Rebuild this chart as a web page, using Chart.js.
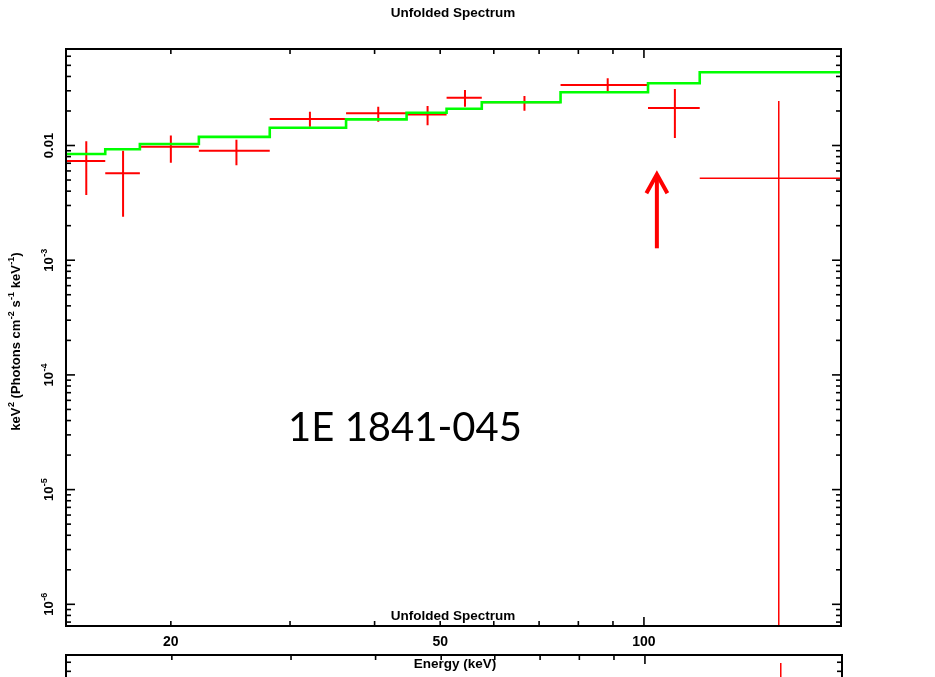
<!DOCTYPE html>
<html>
<head>
<meta charset="utf-8">
<title>Unfolded Spectrum</title>
<script src="https://cdn.jsdelivr.net/npm/chart.js@4.4.0/dist/chart.umd.min.js"></script>
<style>
  html, body { margin: 0; padding: 0; background: #fff; }
  #wrap { position: relative; width: 935px; height: 677px; }
</style>
</head>
<body>
<div id="wrap"><canvas id="spec" width="935" height="677"></canvas></div>
<script>
// ── Data ────────────────────────────────────────────────────────────────────
// energy bins, keV
const binLo     = [14.0, 16.0, 18.0, 22.0, 28.0, 36.3, 44.6, 51.1, 57.6, 75.3, 101.4, 120.9];
const binHi     = [16.0, 18.0, 22.0, 28.0, 36.3, 44.6, 51.1, 57.6, 75.3, 101.4, 120.9, 200.0];
const binCenter = [15.0, 17.0, 20.0, 25.0, 32.1, 40.5, 47.9, 54.4, 66.6, 88.4, 111.1, 158.2];

// unfolded data, keV^2 (Photons cm^-2 s^-1 keV^-1)
const fluxVal = [7.33e-3, 5.72e-3, 9.76e-3, 9.01e-3, 0.0170, 0.0191, 0.0186, 0.0261, 0.0238, 0.0337, 0.0212, 5.18e-3];
const fluxHi  = [0.0109, 9.01e-3, 0.0122, 0.0112, 0.0197, 0.0218, 0.0221, 0.0305, 0.0270, 0.0385, 0.0311, 0.0244];
const fluxLo  = [3.70e-3, 2.39e-3, 7.08e-3, 6.72e-3, 0.0146, 0.0161, 0.0150, 0.0218, 0.0201, 0.0295, 0.0116, 1e-7];

// model (green histogram)
const modelVal = [8.43e-3, 9.27e-3, 0.0103, 0.0119, 0.0143, 0.0169, 0.0193, 0.0209, 0.0238, 0.0291, 0.0349, 0.0435];

// axis ranges and tick labels  ([base, superscript])
const xRange = [14.0, 195.5];
const yRange = [6.47e-7, 0.0694];
const xTickLabelValues = [20, 50, 100];
const xTickLabels      = ['20', '50', '100'];
const yTickLabelValues = [1e-2, 1e-3, 1e-4, 1e-5, 1e-6];
const yTickLabels      = [['0.01', ''], ['10', '-3'], ['10', '-4'], ['10', '-5'], ['10', '-6']];
const yTitle = [['keV', '2'], [' (Photons cm', '-2'], [' s', '-1'], [' keV', '-1'], [')', '']];

// arrow annotation (energy, tip flux, tail flux)
const arrowAt = { x: 104.5, tip: 5.72e-3, tail: 1.27e-3 };

// ── Styles ──────────────────────────────────────────────────────────────────
const RED = '#ff0000';
const GREEN = '#00ff00';
const FAMILY = '"Liberation Sans", Arial, sans-serif';
const TITLE_FONT = 'bold 13.5px ' + FAMILY;
const LOWER_PANEL_TOP = 655;

// ── Build datasets from the arrays ──────────────────────────────────────────
const modelPoints = [];
modelVal.forEach((v, i) => {
    modelPoints.push({ x: binLo[i], y: v }, { x: binHi[i], y: v });
});

function crossPoints(from, to) {
    const pts = [];
    for (let i = from; i < to; i++) {
        pts.push({ x: binLo[i], y: fluxVal[i] }, { x: binHi[i], y: fluxVal[i] }, { x: binCenter[i], y: null });
        pts.push({ x: binCenter[i], y: fluxHi[i] }, { x: binCenter[i], y: fluxLo[i] }, { x: binCenter[i], y: null });
    }
    return pts;
}

function isDecade(v) {
    const l = Math.log10(v);
    return Math.abs(l - Math.round(l)) < 1e-9;
}

function logTicks(lo, hi) {
    const out = [];
    for (let k = Math.floor(Math.log10(lo)); k <= Math.ceil(Math.log10(hi)); k++) {
        for (let m = 1; m <= 9; m++) {
            const v = m * Math.pow(10, k);
            if (v >= lo && v <= hi) out.push(v);
        }
    }
    return out;
}

// text with superscripts, centred on (0,0) of the current transform
function richText(ctx, parts, size) {
    const big = 'bold ' + size + 'px ' + FAMILY;
    const small = 'bold ' + Math.round(size * 0.68) + 'px ' + FAMILY;
    let w = 0;
    parts.forEach(([b, s]) => {
        ctx.font = big; w += ctx.measureText(b).width;
        if (s) { ctx.font = small; w += ctx.measureText(s).width + 0.5; }
    });
    let cx = -w / 2;
    const base = size * 0.36;
    ctx.textAlign = 'left';
    ctx.textBaseline = 'alphabetic';
    parts.forEach(([b, s]) => {
        ctx.font = big; ctx.fillText(b, cx, base); cx += ctx.measureText(b).width;
        if (s) {
            ctx.font = small; ctx.fillText(s, cx + 0.5, base - size * 0.42);
            cx += ctx.measureText(s).width + 0.5;
        }
    });
}

// ── Frame, inward ticks, labels and annotations ─────────────────────────────
const xspecFrame = {
    id: 'xspecFrame',
    afterDraw(chart) {
        const { ctx, chartArea: a, scales: { x, y } } = chart;
        const seg = (x1, y1, x2, y2) => { ctx.beginPath(); ctx.moveTo(x1, y1); ctx.lineTo(x2, y2); ctx.stroke(); };
        ctx.save();
        ctx.strokeStyle = '#000';
        ctx.fillStyle = '#000';

        // frame
        ctx.lineWidth = 2;
        ctx.strokeRect(a.left, a.top, a.right - a.left, a.bottom - a.top);

        // ticks
        ctx.lineWidth = 1.6;
        const xt = logTicks(xRange[0], xRange[1]);
        xt.forEach(v => {
            const px = x.getPixelForValue(v);
            const len = isDecade(v) ? 9 : 5;
            seg(px, a.bottom, px, a.bottom - len);
            seg(px, a.top, px, a.top + len);
        });
        const yt = logTicks(yRange[0], yRange[1]);
        yt.forEach(v => {
            const py = y.getPixelForValue(v);
            const len = isDecade(v) ? 9 : 5;
            seg(a.left, py, a.left + len, py);
            seg(a.right, py, a.right - len, py);
        });

        // x tick labels
        ctx.font = 'bold 14px ' + FAMILY;
        ctx.textAlign = 'center';
        ctx.textBaseline = 'middle';
        xTickLabelValues.forEach((v, i) => {
            ctx.fillText(xTickLabels[i], x.getPixelForValue(v), a.bottom + 16);
        });

        // y tick labels (rotated)
        yTickLabelValues.forEach((v, i) => {
            ctx.save();
            ctx.translate(a.left - 18, y.getPixelForValue(v));
            ctx.rotate(-Math.PI / 2);
            richText(ctx, [yTickLabels[i]], 13);
            ctx.restore();
        });

        // y axis title
        ctx.save();
        ctx.translate(15, (a.top + a.bottom) / 2 + 4);
        ctx.rotate(-Math.PI / 2);
        richText(ctx, yTitle, 13);
        ctx.restore();

        // titles
        ctx.font = TITLE_FONT;
        ctx.textAlign = 'center';
        ctx.textBaseline = 'middle';
        ctx.fillText('Unfolded Spectrum', 453, 13);
        ctx.fillText('Unfolded Spectrum', 453, a.bottom - 10);

        // source name
        ctx.font = '40px Lato, "Open Sans", sans-serif';
        ctx.fillText('1E 1841-045', 405, 428);

        // arrow
        const ax = x.getPixelForValue(arrowAt.x);
        const tipY = y.getPixelForValue(arrowAt.tip);
        const tailY = y.getPixelForValue(arrowAt.tail);
        ctx.strokeStyle = RED;
        ctx.lineWidth = 4;
        ctx.lineCap = 'butt';
        seg(ax, tailY, ax, tipY + 2);
        ctx.beginPath();
        ctx.moveTo(ax - 10.5, tipY + 20);
        ctx.lineTo(ax, tipY + 1);
        ctx.lineTo(ax + 10.5, tipY + 20);
        ctx.stroke();

        // second (lower) panel peeking in at the bottom
        const off = LOWER_PANEL_TOP - a.top;
        const bottom = chart.height;
        ctx.strokeStyle = '#000';
        ctx.lineWidth = 2;
        ctx.beginPath();
        ctx.moveTo(a.left, bottom);
        ctx.lineTo(a.left, LOWER_PANEL_TOP);
        ctx.lineTo(a.right + 1, LOWER_PANEL_TOP);
        ctx.lineTo(a.right + 1, bottom);
        ctx.stroke();
        ctx.lineWidth = 1.6;
        xt.forEach(v => {
            const px = x.getPixelForValue(v) + 1;
            const len = isDecade(v) ? 9 : 5;
            seg(px, LOWER_PANEL_TOP, px, LOWER_PANEL_TOP + len);
        });
        yt.forEach(v => {
            const py = y.getPixelForValue(v) + off;
            if (py > bottom) return;
            const len = isDecade(v) ? 9 : 5;
            seg(a.left, py, a.left + len, py);
            seg(a.right + 1, py, a.right + 1 - len, py);
        });
        ctx.strokeStyle = RED;
        ctx.lineWidth = 1.5;
        const lx = x.getPixelForValue(binCenter[binCenter.length - 1]) + 2;
        seg(lx, LOWER_PANEL_TOP + 8, lx, bottom);

        ctx.fillStyle = '#000';
        ctx.font = TITLE_FONT;
        ctx.fillText('Energy (keV)', 455, 664);
        ctx.restore();
    }
};

// ── Chart ───────────────────────────────────────────────────────────────────
const last = binCenter.length - 1;
new Chart(document.getElementById('spec').getContext('2d'), {
    type: 'line',
    data: {
        datasets: [
            {
                label: 'model',
                data: modelPoints,
                borderColor: GREEN,
                borderWidth: 2.6,
                pointRadius: 0,
                tension: 0,
                fill: false
            },
            {
                label: 'data',
                data: crossPoints(0, last),
                borderColor: RED,
                borderWidth: 2,
                pointRadius: 0,
                tension: 0,
                spanGaps: false,
                fill: false
            },
            {
                label: 'data (last bin)',
                data: crossPoints(last, last + 1),
                borderColor: RED,
                borderWidth: 1.5,
                pointRadius: 0,
                tension: 0,
                spanGaps: false,
                fill: false
            }
        ]
    },
    options: {
        responsive: false,
        animation: false,
        layout: { padding: { left: 66, right: 94, top: 49, bottom: 51 } },
        plugins: { legend: { display: false }, tooltip: { enabled: false } },
        scales: {
            x: { type: 'logarithmic', min: xRange[0], max: xRange[1], display: false },
            y: { type: 'logarithmic', min: yRange[0], max: yRange[1], display: false }
        }
    },
    plugins: [xspecFrame]
});
</script>
</body>
</html>
